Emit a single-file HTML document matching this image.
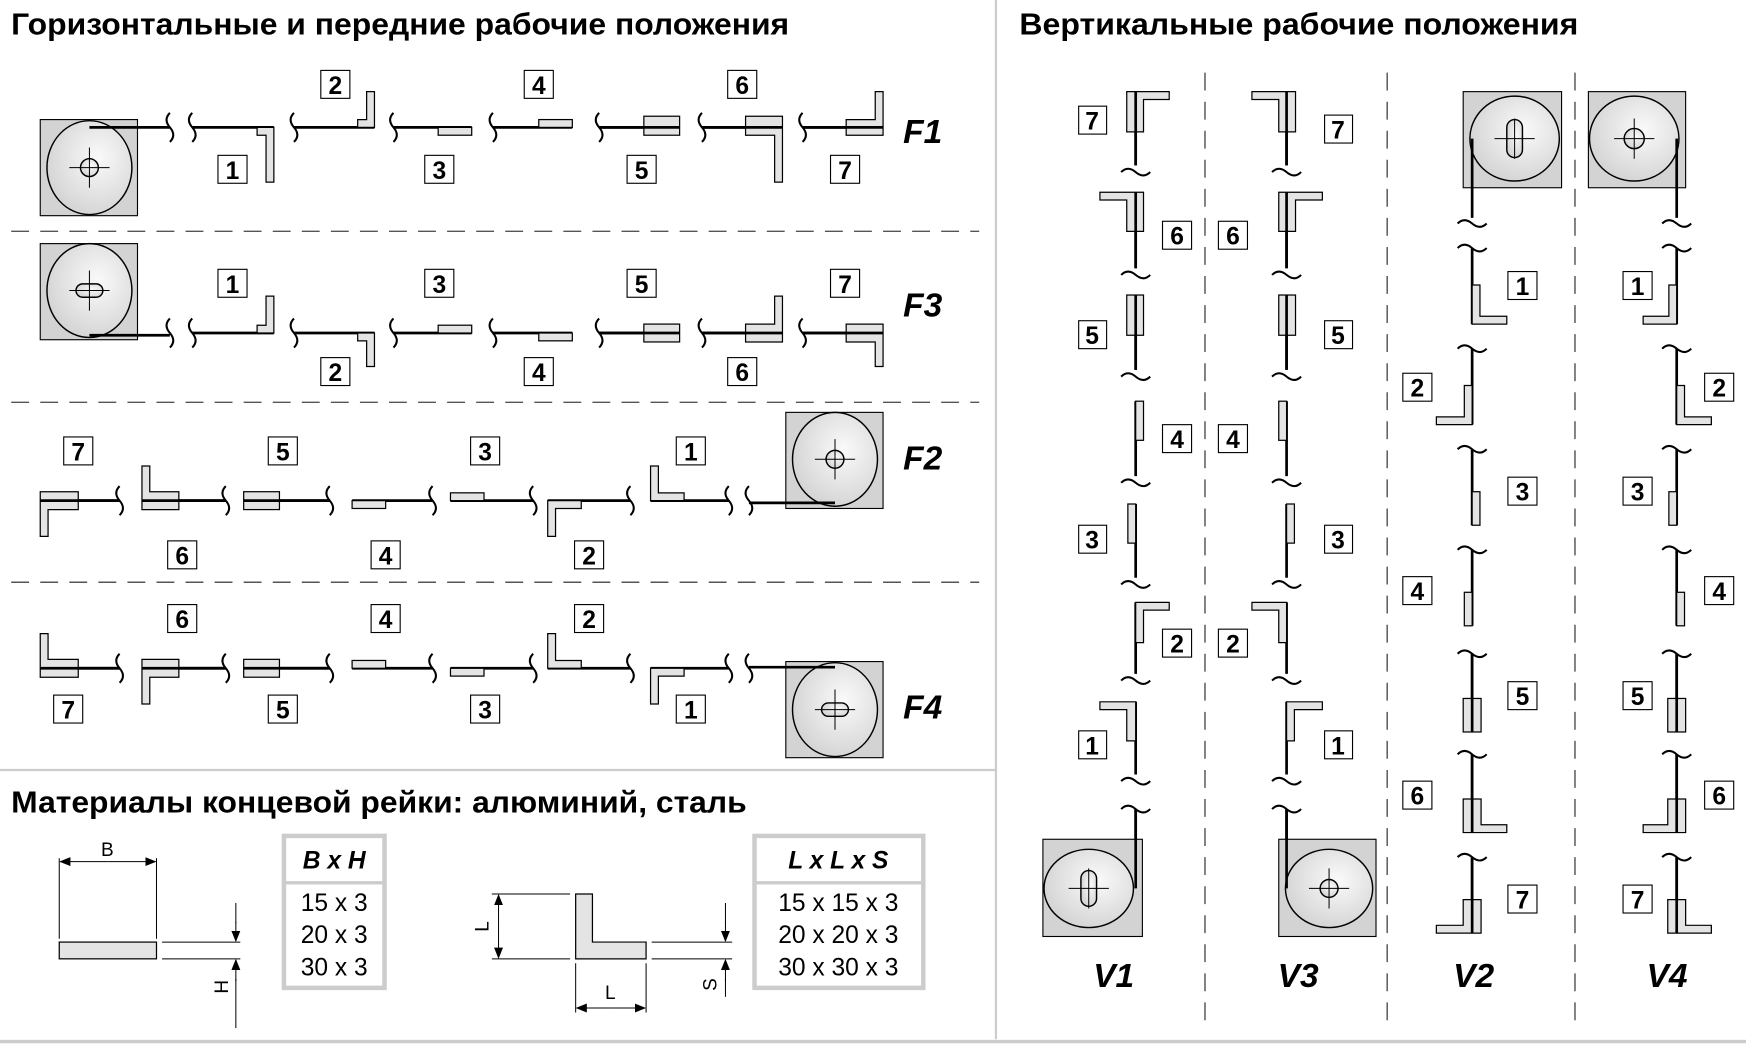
<!DOCTYPE html>
<html><head><meta charset="utf-8"><style>
html,body{margin:0;padding:0;background:#fff}
svg{display:block}
.l{stroke:#000;stroke-width:2.4;fill:none}
.w{stroke:#000;stroke-width:1.8;fill:none}
.p{fill:#e4e4e4;stroke:#000;stroke-width:1.1}
.b{fill:#fff;stroke:#000;stroke-width:1}
.n{font-family:"Liberation Sans",sans-serif;font-weight:bold;font-size:22px;text-anchor:middle;transform:translateY(1px)}
.F{font-family:"Liberation Sans",sans-serif;font-weight:bold;font-style:italic;font-size:30px}
.T{font-family:"Liberation Sans","Noto Sans CJK SC",sans-serif;font-weight:bold;font-size:27px}
.m{fill:#d3d3d3;stroke:#000;stroke-width:1}
.c{fill:url(#g);stroke:#000;stroke-width:1.3}
.d{stroke:#000;stroke-width:0.9;fill:none}
.t{font-family:"Liberation Sans",sans-serif;font-size:22px;text-anchor:middle}
</style></head><body>
<svg width="1746" height="1046" viewBox="0 0 1562 936" preserveAspectRatio="none" xmlns="http://www.w3.org/2000/svg">
<defs><radialGradient id="g" cx="0.6" cy="0.4" r="0.7"><stop offset="0" stop-color="#fafafa"/><stop offset="1" stop-color="#d0d0d0"/></radialGradient>
<marker id="a" markerWidth="10" markerHeight="8" refX="9" refY="4" orient="auto" markerUnits="userSpaceOnUse"><path d="M0 0L10 4L0 8z"/></marker></defs>

<line x1="891" y1="0" x2="891" y2="930" stroke="#ccc" stroke-width="2"/>
<line x1="0" y1="689" x2="891" y2="689" stroke="#ccc" stroke-width="2"/>
<line x1="0" y1="932" x2="1562" y2="932" stroke="#ccc" stroke-width="3"/>
<g stroke="#555" stroke-width="1.3" stroke-dasharray="16,10">
<line x1="10" y1="207" x2="876" y2="207"/><line x1="10" y1="360" x2="876" y2="360"/><line x1="10" y1="521" x2="876" y2="521"/>
<line x1="1078" y1="65" x2="1078" y2="915"/><line x1="1241" y1="65" x2="1241" y2="915"/><line x1="1409" y1="65" x2="1409" y2="915"/>
</g>
<text class="T" x="10" y="31" textLength="696" lengthAdjust="spacingAndGlyphs">Горизонтальные и передние рабочие положения</text>
<text class="T" x="912" y="31" textLength="500" lengthAdjust="spacingAndGlyphs">Вертикальные рабочие положения</text>
<text class="T" x="10" y="727" textLength="658" lengthAdjust="spacingAndGlyphs">Материалы концевой рейки: алюминий, сталь</text>

<!-- F1 -->
<rect class="m" x="36" y="107" width="87" height="86"/><ellipse class="c" cx="80" cy="150" rx="38" ry="42"/>
<circle class="c" cx="80" cy="150" r="8"/><path class="d" d="M62 150H98M80 132V168"/>
<g class="l"><path d="M80 114H152M172 114H245M263 114H335M352 114H422M441 114H512M536 114H608M628 114H700M718 114H790"/></g>
<g class="w"><path d="M152 101q-6 6 0 13q6 7 0 13M172 101q-6 6 0 13q6 7 0 13M263 101q-6 6 0 13q6 7 0 13M352 101q-6 6 0 13q6 7 0 13M441 101q-6 6 0 13q6 7 0 13M536 101q-6 6 0 13q6 7 0 13M628 101q-6 6 0 13q6 7 0 13M718 101q-6 6 0 13q6 7 0 13"/></g>
<polygon class="p" points="230,114 245,114 245,163 238,163 238,121 230,121"/>
<polygon class="p" points="320,114 335,114 335,82 328,82 328,107 320,107"/>
<rect class="p" x="392" y="114" width="30" height="7"/>
<rect class="p" x="482" y="107" width="30" height="7"/>
<rect class="p" x="576" y="104" width="32" height="17"/>
<polygon class="p" points="667,104 700,104 700,163 693,163 693,121 667,121"/>
<polygon class="p" points="757,107 783,107 783,82 790,82 790,121 757,121"/>
<path class="l" d="M536 114H608M628 114H700M718 114H790"/>
<text class="F" x="808" y="128">F1</text>

<!-- F3 -->
<rect class="m" x="36" y="218" width="87" height="86"/><ellipse class="c" cx="80" cy="260" rx="38" ry="42"/>
<rect class="c" x="68" y="254" width="24" height="12" rx="6"/><path class="d" d="M62 260H98M80 242V278"/>
<g class="l"><path d="M80 300H152M172 298H245M263 298H335M352 298H422M441 298H512M536 298H608M628 298H700M718 298H790"/></g>
<g class="w"><path d="M152 285q-6 6 0 13q6 7 0 13M172 285q-6 6 0 13q6 7 0 13M263 285q-6 6 0 13q6 7 0 13M352 285q-6 6 0 13q6 7 0 13M441 285q-6 6 0 13q6 7 0 13M536 285q-6 6 0 13q6 7 0 13M628 285q-6 6 0 13q6 7 0 13M718 285q-6 6 0 13q6 7 0 13"/></g>
<polygon class="p" points="230,298 245,298 245,265 238,265 238,291 230,291"/>
<polygon class="p" points="320,298 335,298 335,328 328,328 328,305 320,305"/>
<rect class="p" x="392" y="291" width="30" height="7"/>
<rect class="p" x="482" y="298" width="30" height="7"/>
<rect class="p" x="576" y="290" width="32" height="16"/>
<polygon class="p" points="667,290 693,290 693,265 700,265 700,306 667,306"/>
<polygon class="p" points="757,290 790,290 790,328 783,328 783,306 757,306"/>
<path class="l" d="M536 298H608M628 298H700M718 298H790"/>
<text class="F" x="808" y="283">F3</text>

<!-- F2 -->
<rect class="m" x="703" y="369" width="87" height="86"/><ellipse class="c" cx="747" cy="411" rx="38" ry="42"/>
<circle class="c" cx="747" cy="411" r="8"/><path class="d" d="M729 411H765M747 393V429"/>
<g class="l"><path d="M670 450H747M582 448H652M490 448H564M403 448H477M315 448H387M218 448H295M127 448H202M36 448H107"/></g>
<g class="w"><path d="M670 435q-6 6 0 13q6 7 0 13M652 435q-6 6 0 13q6 7 0 13M564 435q-6 6 0 13q6 7 0 13M477 435q-6 6 0 13q6 7 0 13M387 435q-6 6 0 13q6 7 0 13M295 435q-6 6 0 13q6 7 0 13M202 435q-6 6 0 13q6 7 0 13M107 435q-6 6 0 13q6 7 0 13"/></g>
<polygon class="p" points="582,417 589,417 589,441 612,441 612,448 582,448"/>
<polygon class="p" points="490,448 520,448 520,455 497,455 497,480 490,480"/>
<rect class="p" x="403" y="441" width="30" height="7"/>
<rect class="p" x="315" y="448" width="30" height="7"/>
<rect class="p" x="218" y="440" width="32" height="16"/>
<polygon class="p" points="127,417 134,417 134,440 160,440 160,456 127,456"/>
<polygon class="p" points="36,440 70,440 70,456 43,456 43,480 36,480"/>
<path class="l" d="M218 448H295M127 448H202M36 448H107"/>
<text class="F" x="808" y="420">F2</text>

<!-- F4 -->
<rect class="m" x="703" y="592" width="87" height="86"/><ellipse class="c" cx="747" cy="635" rx="38" ry="42"/>
<rect class="c" x="735" y="629" width="24" height="12" rx="6"/><path class="d" d="M729 635H765M747 617V653"/>
<g class="l"><path d="M670 597H747M582 598H652M490 598H564M403 598H477M315 598H387M218 598H295M127 598H202M36 598H107"/></g>
<g class="w"><path d="M670 585q-6 6 0 13q6 7 0 13M652 585q-6 6 0 13q6 7 0 13M564 585q-6 6 0 13q6 7 0 13M477 585q-6 6 0 13q6 7 0 13M387 585q-6 6 0 13q6 7 0 13M295 585q-6 6 0 13q6 7 0 13M202 585q-6 6 0 13q6 7 0 13M107 585q-6 6 0 13q6 7 0 13"/></g>
<polygon class="p" points="582,598 612,598 612,605 589,605 589,630 582,630"/>
<polygon class="p" points="490,567 497,567 497,591 520,591 520,598 490,598"/>
<rect class="p" x="403" y="598" width="30" height="7"/>
<rect class="p" x="315" y="591" width="30" height="7"/>
<rect class="p" x="218" y="590" width="32" height="16"/>
<polygon class="p" points="127,590 160,590 160,606 134,606 134,630 127,630"/>
<polygon class="p" points="36,567 43,567 43,590 70,590 70,606 36,606"/>
<path class="l" d="M218 598H295M127 598H202M36 598H107"/>
<text class="F" x="808" y="643">F4</text>

<g>
<rect class="b" x="195" y="139" width="26" height="25"/><text class="n" x="208" y="159">1</text>
<rect class="b" x="287" y="63" width="26" height="25"/><text class="n" x="300" y="83">2</text>
<rect class="b" x="380" y="139" width="26" height="25"/><text class="n" x="393" y="159">3</text>
<rect class="b" x="469" y="63" width="26" height="25"/><text class="n" x="482" y="83">4</text>
<rect class="b" x="561" y="139" width="26" height="25"/><text class="n" x="574" y="159">5</text>
<rect class="b" x="651" y="63" width="26" height="25"/><text class="n" x="664" y="83">6</text>
<rect class="b" x="743" y="139" width="26" height="25"/><text class="n" x="756" y="159">7</text>

<rect class="b" x="195" y="241" width="26" height="25"/><text class="n" x="208" y="261">1</text>
<rect class="b" x="287" y="320" width="26" height="25"/><text class="n" x="300" y="340">2</text>
<rect class="b" x="380" y="241" width="26" height="25"/><text class="n" x="393" y="261">3</text>
<rect class="b" x="469" y="320" width="26" height="25"/><text class="n" x="482" y="340">4</text>
<rect class="b" x="561" y="241" width="26" height="25"/><text class="n" x="574" y="261">5</text>
<rect class="b" x="651" y="320" width="26" height="25"/><text class="n" x="664" y="340">6</text>
<rect class="b" x="743" y="241" width="26" height="25"/><text class="n" x="756" y="261">7</text>

<rect class="b" x="605" y="391" width="26" height="25"/><text class="n" x="618" y="411">1</text>
<rect class="b" x="514" y="484" width="26" height="25"/><text class="n" x="527" y="504">2</text>
<rect class="b" x="421" y="391" width="26" height="25"/><text class="n" x="434" y="411">3</text>
<rect class="b" x="332" y="484" width="26" height="25"/><text class="n" x="345" y="504">4</text>
<rect class="b" x="240" y="391" width="26" height="25"/><text class="n" x="253" y="411">5</text>
<rect class="b" x="150" y="484" width="26" height="25"/><text class="n" x="163" y="504">6</text>
<rect class="b" x="57" y="391" width="26" height="25"/><text class="n" x="70" y="411">7</text>

<rect class="b" x="605" y="622" width="26" height="25"/><text class="n" x="618" y="642">1</text>
<rect class="b" x="514" y="541" width="26" height="25"/><text class="n" x="527" y="561">2</text>
<rect class="b" x="421" y="622" width="26" height="25"/><text class="n" x="434" y="642">3</text>
<rect class="b" x="332" y="541" width="26" height="25"/><text class="n" x="345" y="561">4</text>
<rect class="b" x="240" y="622" width="26" height="25"/><text class="n" x="253" y="642">5</text>
<rect class="b" x="150" y="541" width="26" height="25"/><text class="n" x="163" y="561">6</text>
<rect class="b" x="48" y="622" width="26" height="25"/><text class="n" x="61" y="642">7</text>
</g>

<!-- Materials -->
<rect class="p" x="53" y="843" width="87" height="15"/>
<path class="d" d="M53 768V840M140 768V840M145 843H215M145 858H215M211 876V920M211 808V826"/>
<line class="d" x1="96" y1="771" x2="54" y2="771" marker-end="url(#a)"/><line class="d" x1="96" y1="771" x2="139" y2="771" marker-end="url(#a)"/>
<line class="d" x1="211" y1="825" x2="211" y2="842" marker-end="url(#a)"/><line class="d" x1="211" y1="878" x2="211" y2="859" marker-end="url(#a)"/>
<text class="t" x="96" y="766" style="font-size:17px">B</text>
<text class="t" x="0" y="0" style="font-size:17px" transform="translate(204,883) rotate(-90)">H</text>
<rect x="254" y="748" width="90" height="136" fill="#fff" stroke="#ccc" stroke-width="4"/>
<line x1="254" y1="790" x2="344" y2="790" stroke="#ccc" stroke-width="3"/>
<text class="t" x="299" y="777" style="font-weight:bold;font-style:italic">B x H</text>
<text class="t" x="299" y="815">15 x 3</text><text class="t" x="299" y="844">20 x 3</text><text class="t" x="299" y="873">30 x 3</text>

<polygon class="p" points="515,800 530,800 530,843 578,843 578,858 515,858"/>
<path class="d" d="M440 800H510M440 858H510M515 862V906M578 862V906M583 843H655M583 858H655M649 808V826M649 876V892"/>
<line class="d" x1="446" y1="829" x2="446" y2="801" marker-end="url(#a)"/><line class="d" x1="446" y1="829" x2="446" y2="857" marker-end="url(#a)"/>
<line class="d" x1="546" y1="902" x2="516" y2="902" marker-end="url(#a)"/><line class="d" x1="546" y1="902" x2="577" y2="902" marker-end="url(#a)"/>
<line class="d" x1="649" y1="825" x2="649" y2="842" marker-end="url(#a)"/><line class="d" x1="649" y1="878" x2="649" y2="859" marker-end="url(#a)"/>
<text class="t" x="0" y="0" style="font-size:17px" transform="translate(437,829) rotate(-90)">L</text>
<text class="t" x="546" y="894" style="font-size:17px">L</text>
<text class="t" x="0" y="0" style="font-size:17px" transform="translate(641,881) rotate(-90)">S</text>
<rect x="675" y="748" width="151" height="136" fill="#fff" stroke="#ccc" stroke-width="4"/>
<line x1="675" y1="790" x2="826" y2="790" stroke="#ccc" stroke-width="3"/>
<text class="t" x="750" y="777" style="font-weight:bold;font-style:italic">L x L x S</text>
<text class="t" x="750" y="815">15 x 15 x 3</text><text class="t" x="750" y="844">20 x 20 x 3</text><text class="t" x="750" y="873">30 x 30 x 3</text>

<!-- V1 -->
<g class="l"><path d="M1016 82V148M1016 172V240M1016 264V331M1016 359V426M1016 451V517M1016 539V603M1016 628V693M1016 724V795"/></g>
<g class="w"><path d="M1003 154q6-6 13 0q7 6 13 0M1003 246q6-6 13 0q7 6 13 0M1003 337q6-6 13 0q7 6 13 0M1003 432q6-6 13 0q7 6 13 0M1003 523q6-6 13 0q7 6 13 0M1003 609q6-6 13 0q7 6 13 0M1003 699q6-6 13 0q7 6 13 0M1003 724q6-6 13 0q7 6 13 0"/></g>
<polygon class="p" points="1008,82 1046,82 1046,89 1023,89 1023,118 1008,118"/>
<polygon class="p" points="984,172 1023,172 1023,207 1008,207 1008,179 984,179"/>
<rect class="p" x="1008" y="264" width="15" height="36"/>
<rect class="p" x="1016" y="359" width="7" height="35"/>
<rect class="p" x="1009" y="451" width="7" height="35"/>
<polygon class="p" points="1016,539 1046,539 1046,546 1023,546 1023,575 1016,575"/>
<polygon class="p" points="984,628 1016,628 1016,663 1008,663 1008,635 984,635"/>
<path class="l" d="M1016 82V148M1016 172V240M1016 264V331"/>
<rect class="m" x="933" y="751" width="89" height="87"/><ellipse class="c" cx="974" cy="795" rx="40" ry="35"/>
<rect class="c" x="967" y="779" width="14" height="32" rx="7"/><path class="d" d="M956 795H992M974 777V813"/>
<path class="l" d="M1016 724V795"/>
<text class="F" x="978" y="883">V1</text>

<!-- V3 -->
<g class="l"><path d="M1151 82V148M1151 172V240M1151 264V331M1151 359V426M1151 451V517M1151 539V603M1151 628V693M1151 724V795"/></g>
<g class="w"><path d="M1138 154q6-6 13 0q7 6 13 0M1138 246q6-6 13 0q7 6 13 0M1138 337q6-6 13 0q7 6 13 0M1138 432q6-6 13 0q7 6 13 0M1138 523q6-6 13 0q7 6 13 0M1138 609q6-6 13 0q7 6 13 0M1138 699q6-6 13 0q7 6 13 0M1138 724q6-6 13 0q7 6 13 0"/></g>
<polygon class="p" points="1120,82 1159,82 1159,118 1144,118 1144,89 1120,89"/>
<polygon class="p" points="1144,172 1183,172 1183,179 1159,179 1159,207 1144,207"/>
<rect class="p" x="1144" y="264" width="15" height="36"/>
<rect class="p" x="1144" y="359" width="7" height="35"/>
<rect class="p" x="1151" y="451" width="7" height="35"/>
<polygon class="p" points="1120,539 1151,539 1151,575 1144,575 1144,546 1120,546"/>
<polygon class="p" points="1151,628 1183,628 1183,635 1158,635 1158,663 1151,663"/>
<path class="l" d="M1151 82V148M1151 172V240M1151 264V331"/>
<rect class="m" x="1144" y="751" width="87" height="87"/><ellipse class="c" cx="1189" cy="795" rx="39" ry="35"/>
<circle class="c" cx="1189" cy="795" r="8"/><path class="d" d="M1171 795H1207M1189 777V813"/>
<path class="l" d="M1151 724V795"/>
<text class="F" x="1143" y="883">V3</text>

<!-- V2 -->
<rect class="m" x="1309" y="82" width="88" height="86"/><ellipse class="c" cx="1355" cy="124" rx="40" ry="38"/>
<rect class="c" x="1348" y="107" width="14" height="34" rx="7"/><path class="d" d="M1337 124H1373M1355 106V142"/>
<g class="l"><path d="M1317 124V195M1317 222V290M1317 312V380M1317 402V470M1317 492V560M1317 585V655M1317 675V745M1317 767V835"/></g>
<g class="w"><path d="M1304 200q6-6 13 0q7 6 13 0M1304 222q6-6 13 0q7 6 13 0M1304 312q6-6 13 0q7 6 13 0M1304 402q6-6 13 0q7 6 13 0M1304 492q6-6 13 0q7 6 13 0M1304 585q6-6 13 0q7 6 13 0M1304 675q6-6 13 0q7 6 13 0M1304 767q6-6 13 0q7 6 13 0"/></g>
<polygon class="p" points="1317,255 1324,255 1324,283 1348,283 1348,290 1317,290"/>
<polygon class="p" points="1285,373 1310,373 1310,345 1317,345 1317,380 1285,380"/>
<rect class="p" x="1317" y="440" width="7" height="30"/>
<rect class="p" x="1310" y="530" width="7" height="30"/>
<rect class="p" x="1309" y="625" width="16" height="30"/>
<polygon class="p" points="1309,715 1325,715 1325,738 1348,738 1348,745 1309,745"/>
<polygon class="p" points="1309,805 1325,805 1325,835 1285,835 1285,828 1309,828"/>
<path class="l" d="M1317 585V655M1317 675V745M1317 767V835"/>
<text class="F" x="1300" y="883">V2</text>

<!-- V4 -->
<rect class="m" x="1421" y="82" width="87" height="86"/><ellipse class="c" cx="1462" cy="124" rx="40" ry="38"/>
<circle class="c" cx="1462" cy="124" r="9"/><path class="d" d="M1444 124H1480M1462 106V142"/>
<g class="l"><path d="M1500 124V195M1500 222V290M1500 312V380M1500 402V470M1500 492V560M1500 585V655M1500 675V745M1500 767V835"/></g>
<g class="w"><path d="M1487 200q6-6 13 0q7 6 13 0M1487 222q6-6 13 0q7 6 13 0M1487 312q6-6 13 0q7 6 13 0M1487 402q6-6 13 0q7 6 13 0M1487 492q6-6 13 0q7 6 13 0M1487 585q6-6 13 0q7 6 13 0M1487 675q6-6 13 0q7 6 13 0M1487 767q6-6 13 0q7 6 13 0"/></g>
<polygon class="p" points="1493,255 1500,255 1500,290 1470,290 1470,283 1493,283"/>
<polygon class="p" points="1500,345 1507,345 1507,373 1531,373 1531,380 1500,380"/>
<rect class="p" x="1493" y="440" width="7" height="30"/>
<rect class="p" x="1500" y="530" width="7" height="30"/>
<rect class="p" x="1492" y="625" width="16" height="30"/>
<polygon class="p" points="1492,715 1508,715 1508,745 1470,745 1470,738 1492,738"/>
<polygon class="p" points="1492,805 1508,805 1508,828 1531,828 1531,835 1492,835"/>
<path class="l" d="M1500 585V655M1500 675V745M1500 767V835"/>
<text class="F" x="1473" y="883">V4</text>

<g>
<rect class="b" x="965" y="95" width="25" height="25"/><text class="n" x="977" y="115">7</text>
<rect class="b" x="1040" y="198" width="26" height="25"/><text class="n" x="1053" y="218">6</text>
<rect class="b" x="965" y="287" width="25" height="25"/><text class="n" x="977" y="307">5</text>
<rect class="b" x="1040" y="380" width="26" height="25"/><text class="n" x="1053" y="400">4</text>
<rect class="b" x="965" y="470" width="25" height="25"/><text class="n" x="977" y="490">3</text>
<rect class="b" x="1040" y="563" width="26" height="25"/><text class="n" x="1053" y="583">2</text>
<rect class="b" x="965" y="654" width="25" height="25"/><text class="n" x="977" y="674">1</text>

<rect class="b" x="1185" y="103" width="25" height="25"/><text class="n" x="1197" y="123">7</text>
<rect class="b" x="1090" y="198" width="26" height="25"/><text class="n" x="1103" y="218">6</text>
<rect class="b" x="1185" y="287" width="25" height="25"/><text class="n" x="1197" y="307">5</text>
<rect class="b" x="1090" y="380" width="26" height="25"/><text class="n" x="1103" y="400">4</text>
<rect class="b" x="1185" y="470" width="25" height="25"/><text class="n" x="1197" y="490">3</text>
<rect class="b" x="1090" y="563" width="26" height="25"/><text class="n" x="1103" y="583">2</text>
<rect class="b" x="1185" y="654" width="25" height="25"/><text class="n" x="1197" y="674">1</text>

<rect class="b" x="1349" y="243" width="26" height="25"/><text class="n" x="1362" y="263">1</text>
<rect class="b" x="1255" y="334" width="26" height="25"/><text class="n" x="1268" y="354">2</text>
<rect class="b" x="1349" y="427" width="26" height="25"/><text class="n" x="1362" y="447">3</text>
<rect class="b" x="1255" y="516" width="26" height="25"/><text class="n" x="1268" y="536">4</text>
<rect class="b" x="1349" y="610" width="26" height="25"/><text class="n" x="1362" y="630">5</text>
<rect class="b" x="1255" y="699" width="26" height="25"/><text class="n" x="1268" y="719">6</text>
<rect class="b" x="1349" y="792" width="26" height="25"/><text class="n" x="1362" y="812">7</text>

<rect class="b" x="1452" y="243" width="26" height="25"/><text class="n" x="1465" y="263">1</text>
<rect class="b" x="1525" y="334" width="26" height="25"/><text class="n" x="1538" y="354">2</text>
<rect class="b" x="1452" y="427" width="26" height="25"/><text class="n" x="1465" y="447">3</text>
<rect class="b" x="1525" y="516" width="26" height="25"/><text class="n" x="1538" y="536">4</text>
<rect class="b" x="1452" y="610" width="26" height="25"/><text class="n" x="1465" y="630">5</text>
<rect class="b" x="1525" y="699" width="26" height="25"/><text class="n" x="1538" y="719">6</text>
<rect class="b" x="1452" y="792" width="26" height="25"/><text class="n" x="1465" y="812">7</text>
</g>
</svg>
</body></html>
